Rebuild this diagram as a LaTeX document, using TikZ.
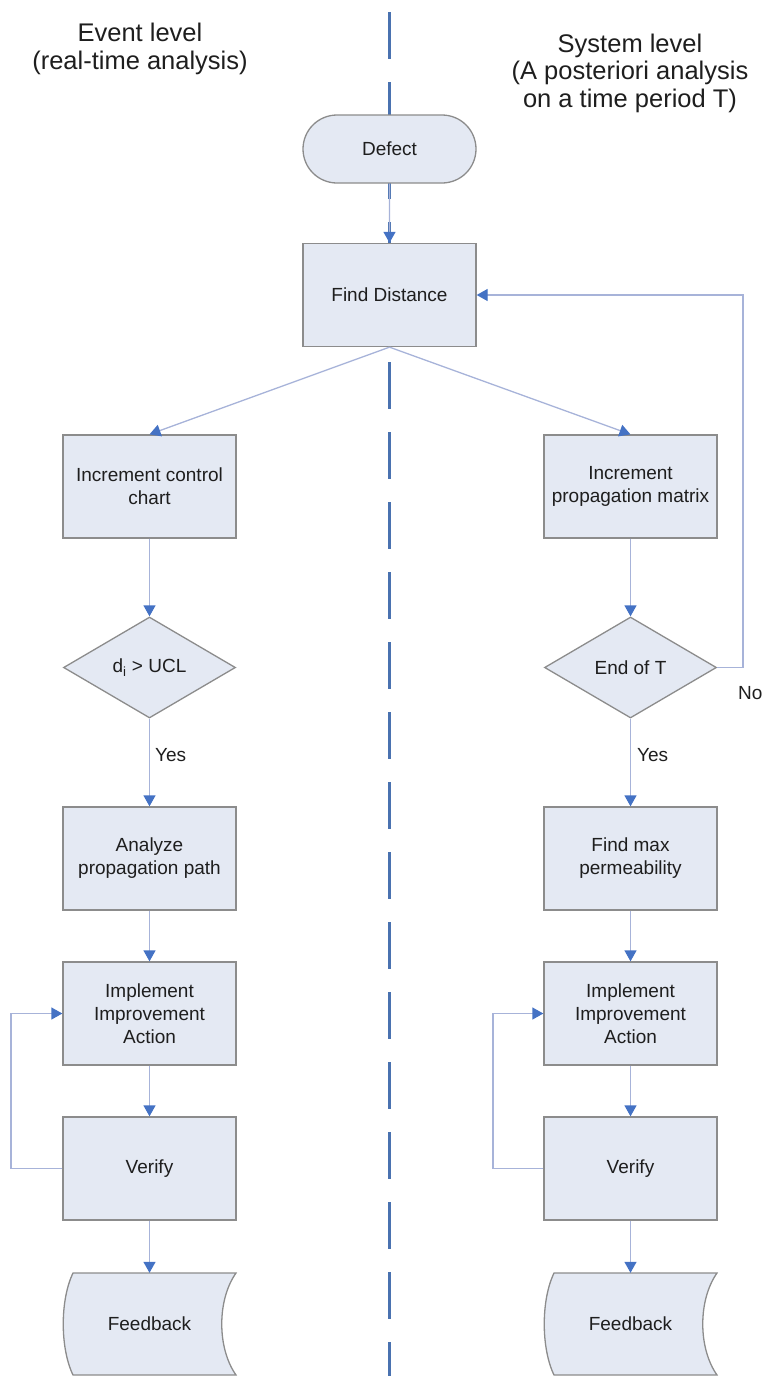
\documentclass[tikz,border=0pt]{standalone}
\usepackage{fontspec}
\setmainfont{Liberation Sans}
\usetikzlibrary{arrows.meta,shapes.geometric,shapes.misc}
\definecolor{boxfill}{HTML}{E4E9F3}
\definecolor{boxline}{HTML}{8C8C8C}
\definecolor{conn}{HTML}{A7B3D9}
\definecolor{tipblue}{HTML}{4472C4}
\definecolor{dashblue}{HTML}{4A72B0}
\definecolor{txt}{HTML}{1E1E1E}
\tikzset{
  base/.style={fill=boxfill,draw=boxline,line width=1.3pt,text=txt,align=center,
    font=\fontsize{19}{23}\selectfont,inner sep=0pt},
  procbox/.style={base,rectangle,minimum width=173pt,minimum height=103pt},
  termbox/.style={base,rounded rectangle,minimum width=173pt,minimum height=68pt},
  decbox/.style={base,diamond,minimum width=172pt,minimum height=101pt},
  fbtext/.style={rectangle,draw=none,text=txt,font=\fontsize{19}{23}\selectfont,
    minimum width=173pt,minimum height=102pt,inner sep=0pt},
  conn/.style={draw=conn,line width=1.3pt,-{Triangle[width=12pt,length=11pt,fill=tipblue,color=tipblue]}},
  plain/.style={draw=conn,line width=1.3pt},
  lbl/.style={text=txt,font=\fontsize{19}{23}\selectfont,inner sep=0pt},
  head/.style={text=txt,font=\fontsize{25.5}{27.5}\selectfont,align=center,inner sep=0pt},
  fbshape/.style={fill=boxfill,draw=boxline,line width=1.3pt}
}
\begin{document}
\begin{tikzpicture}[x=1pt,y=-1pt]
\useasboundingbox (0,0) rectangle (764,1376);
% dashed separator
\draw[dashblue,line width=3pt,dash pattern=on 47pt off 23pt] (389.5,12) -- (389.5,1376);
% headers
\node[head] (h1) at (140,49) {Event level\\(real-time analysis)};
\node[head] (h2) at (630,73) {System level\\(A posteriori analysis\\on a time period T)};
% nodes
\node[termbox] (defect) at (389.5,149) {Defect};
\node[procbox] (find) at (389.5,295) {Find Distance};
\node[procbox] (icc) at (149.5,486.5) {Increment control\\chart};
\node[procbox] (ipm) at (630.5,486.5) {Increment\\propagation matrix};
\node[decbox] (d1) at (149.5,667.5) {d\textsubscript{i} > UCL};
\node[decbox] (d2) at (630.5,667.5) {End of T};
\node[procbox] (aa) at (149.5,858.5) {Analyze\\propagation path};
\node[procbox] (fmp) at (630.5,858.5) {Find max\\permeability};
\node[procbox] (imp1) at (149.5,1013.5) {Implement\\Improvement\\Action};
\node[procbox] (imp2) at (630.5,1013.5) {Implement\\Improvement\\Action};
\node[procbox] (ver1) at (149.5,1168.5) {Verify};
\node[procbox] (ver2) at (630.5,1168.5) {Verify};
% feedback (stored data) shapes
\draw[fbshape] (73,1273) -- (236,1273) .. controls (217,1300) and (217,1348) .. (236,1375)
  -- (73,1375) .. controls (60,1348) and (60,1300) .. (73,1273) -- cycle;
\draw[fbshape] (554,1273) -- (717,1273) .. controls (698,1300) and (698,1348) .. (717,1375)
  -- (554,1375) .. controls (541,1348) and (541,1300) .. (554,1273) -- cycle;
\node[fbtext] (fb1) at (149.5,1324) {Feedback};
\node[fbtext] (fb2) at (630.5,1324) {Feedback};
% connectors
\draw[conn] (defect) -- (find);
\draw[conn] (find.south) -- (icc.north);
\draw[conn] (find.south) -- (ipm.north);
\draw[conn] (icc) -- (d1);
\draw[conn] (ipm) -- (d2);
\draw[conn] (d1) -- (aa);
\draw[conn] (d2) -- (fmp);
\draw[conn] (aa) -- (imp1);
\draw[conn] (fmp) -- (imp2);
\draw[conn] (imp1) -- (ver1);
\draw[conn] (imp2) -- (ver2);
\draw[conn] (ver1) -- (fb1);
\draw[conn] (ver2) -- (fb2);
\coordinate (noc) at (743,667.5);
\coordinate (lp1) at (11,1168.5);
\coordinate (lp2) at (493,1168.5);
\draw[conn] (d2.east) -- (noc) |- (find.east);
\draw[conn] (ver1.west) -- (lp1) |- (imp1.west);
\draw[conn] (ver2.west) -- (lp2) |- (imp2.west);
% labels
\node[lbl,anchor=west] (y1) at (155,755) {Yes};
\node[lbl,anchor=west] (y2) at (637,755) {Yes};
\node[lbl,anchor=west] (no) at (738,693) {No};
\end{tikzpicture}
\end{document}
